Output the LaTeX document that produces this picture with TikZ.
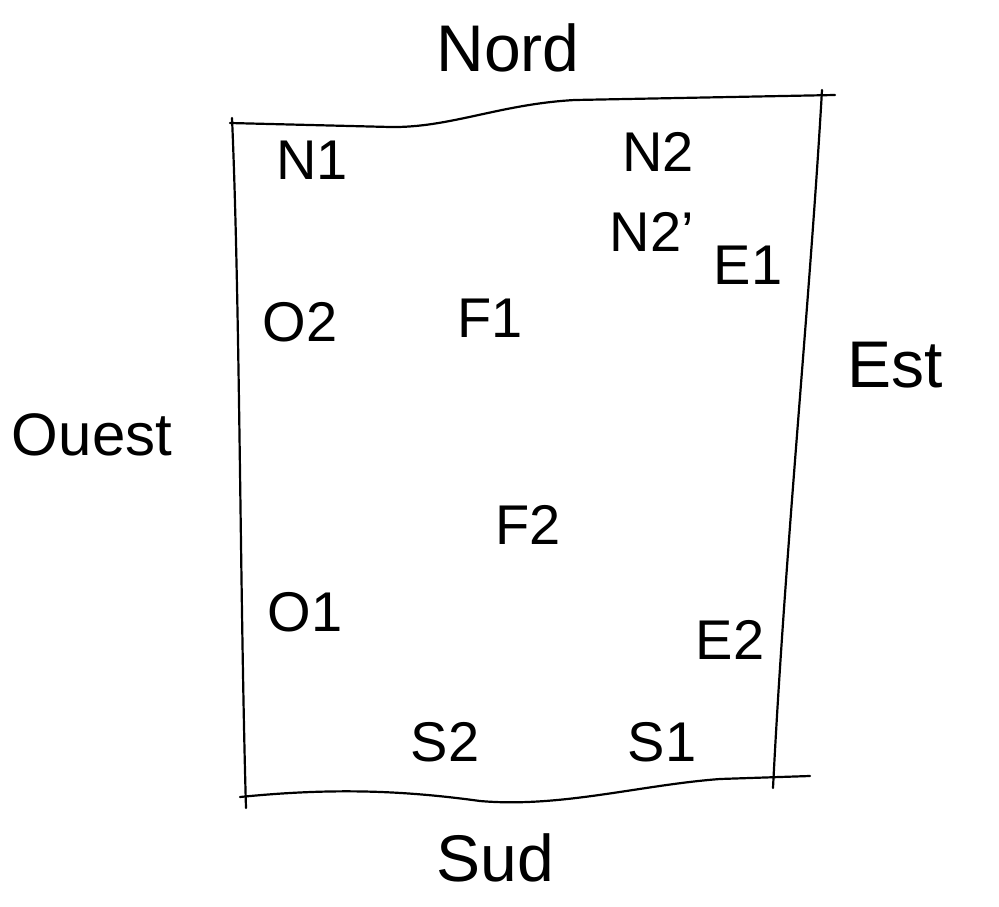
\documentclass[tikz,border=0pt]{standalone}
\usepackage{fontspec}
\setmainfont{Liberation Sans}
\begin{document}
\begin{tikzpicture}[x=1pt,y=-1pt,
  lab/.style={font=\fontsize{56}{56}\selectfont, inner sep=0pt},
  side/.style={font=\fontsize{66}{66}\selectfont, inner sep=0pt},
  edge/.style={line width=2.2pt, line cap=round}]
\useasboundingbox (0,0) rectangle (999,907);
% sides of the sketch
\coordinate (tl) at (230,123);
\coordinate (tr) at (835,95);
\coordinate (bl) at (240,797);
\coordinate (br) at (810,776);
\draw[edge] (tl) -- (390,127) .. controls (450,128) and (500,104) .. (575,100) -- (tr);
\draw[edge] (232,118) .. controls (240,300) and (240,600) .. (246,808);
\draw[edge] (822,90) .. controls (810,300) and (785,550) .. (773,788);
\draw[edge] (bl) .. controls (330,788) and (400,790) .. (480,801) .. controls (560,808) and (640,785) .. (720,779) -- (br);
% labels
\node[side] (nord) at (508,48) {Nord};
\node[side] (sud) at (495,858) {Sud};
\node[side] (est) at (895,365) {Est};
\node[side, font=\fontsize{60}{60}\selectfont] (ouest) at (92,435) {Ouest};
\node[lab] (n1) at (312,160) {N1};
\node[lab] (n2) at (658,152) {N2};
\node[lab] (n2p) at (652,232) {N2'};
\node[lab] (e1) at (748,265) {E1};
\node[lab] (o2) at (300,322) {O2};
\node[lab] (f1) at (490,318) {F1};
\node[lab] (f2) at (528,525) {F2};
\node[lab] (o1) at (305,612) {O1};
\node[lab] (e2) at (730,640) {E2};
\node[lab] (s2) at (445,742) {S2};
\node[lab] (s1) at (662,742) {S1};
\end{tikzpicture}
\end{document}
